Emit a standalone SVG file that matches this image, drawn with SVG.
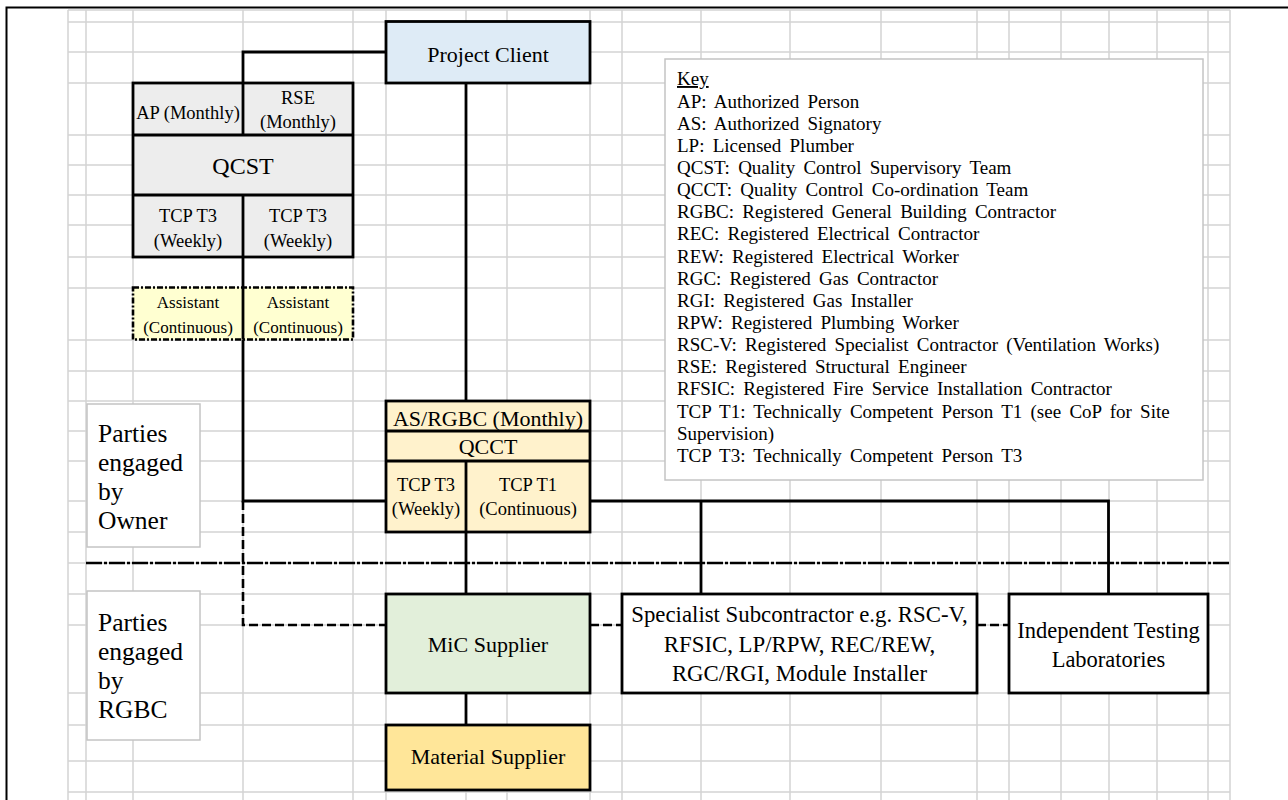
<svg xmlns="http://www.w3.org/2000/svg" width="1288" height="800" viewBox="0 0 1288 800">
<style>
text{font-family:"Liberation Serif","Times New Roman",serif;fill:#000}
.grid{stroke:#d3d3d3;stroke-width:1.5;fill:none}
.box{stroke:#000;stroke-width:2.8}
.div{stroke:#000;stroke-width:2.8;fill:none}
.conn{stroke:#000;stroke-width:2.8;fill:none}
.dash{stroke:#000;stroke-width:2.6;fill:none;stroke-dasharray:9 4}
.sep{stroke:#000;stroke-width:2.4;fill:none;stroke-dasharray:16 2 3 2}
.lbl{stroke:#c4c4c4;stroke-width:1.5;fill:#fff}
.c{text-anchor:middle}
.t22{font-size:22px}
.t18{font-size:18.5px}
.t17{font-size:17px}
.t24{font-size:24px}
.tp{font-size:25.5px}
.key{font-size:19px;word-spacing:3.5px}
</style>
<rect width="1288" height="800" fill="#fff"/>
<g id="grid" class="grid">
<path d="M68,10V800M86,10V800M133,10V800M243,10V800M353,10V800M386,10V800M466,10V800M507,10V800M590,10V800M622,10V800M701,10V800M790,10V800M881,10V800M977,10V800M1009,10V800M1061,10V800M1109,10V800M1157,10V800M1208,10V800M1230,10V800"/>
<path d="M68,10H1230M68,22H1230M68,52H1230M68,83H1230M68,135H1230M68,165H1230M68,195H1230M68,225H1230M68,257H1230M68,288H1230M68,340H1230M68,371H1230M68,401H1230M68,431H1230M68,461H1230M68,501H1230M68,532H1230M68,563H1230M68,594H1230M68,625H1230M68,693H1230M68,725H1230M68,761H1230M68,792H1230"/>
</g>
<path id="frame" d="M6.5,800V7.5H1288" stroke="#000" stroke-width="2" fill="none"/>
<g id="connectors">
<path class="sep" d="M86,563H1230"/>
<path class="conn" d="M386,52H243V83"/>
<path class="conn" d="M466,83V401"/>
<path class="conn" d="M243,257V501H386"/>
<path class="conn" d="M590,501H1108.5V594M701,501V594"/>
<path class="conn" d="M466,532V594"/>
<path class="conn" d="M466,693V725"/>
<path class="dash" d="M243,501V625H386"/>
<path class="dash" d="M590,625H622"/>
<path class="dash" d="M977,625H1009"/>
</g>
<g id="key">
<rect x="665" y="59" width="538" height="421" class="lbl"/>
<text class="key" x="677" y="85" text-decoration="underline">Key</text>
<text class="key" x="677" y="107.5">AP: Authorized Person</text>
<text class="key" x="677" y="129.6">AS: Authorized Signatory</text>
<text class="key" x="677" y="151.8">LP: Licensed Plumber</text>
<text class="key" x="677" y="173.9">QCST: Quality Control Supervisory Team</text>
<text class="key" x="677" y="196.1">QCCT: Quality Control Co-ordination Team</text>
<text class="key" x="677" y="218.2">RGBC: Registered General Building Contractor</text>
<text class="key" x="677" y="240.4">REC: Registered Electrical Contractor</text>
<text class="key" x="677" y="262.5">REW: Registered Electrical Worker</text>
<text class="key" x="677" y="284.7">RGC: Registered Gas Contractor</text>
<text class="key" x="677" y="306.8">RGI: Registered Gas Installer</text>
<text class="key" x="677" y="329">RPW: Registered Plumbing Worker</text>
<text class="key" x="677" y="351.1">RSC-V: Registered Specialist Contractor (Ventilation Works)</text>
<text class="key" x="677" y="373.3">RSE: Registered Structural Engineer</text>
<text class="key" x="677" y="395.4">RFSIC: Registered Fire Service Installation Contractor</text>
<text class="key" x="677" y="417.6">TCP T1: Technically Competent Person T1 (see CoP for Site</text>
<text class="key" x="677" y="439.7">Supervision)</text>
<text class="key" x="677" y="461.9">TCP T3: Technically Competent Person T3</text>
</g>
<g id="project-client">
<rect x="386" y="21.5" width="204" height="61.5" class="box" fill="#deebf6"/>
<text class="t22 c" x="488" y="61.5">Project Client</text>
</g>
<g id="qcst">
<rect x="133" y="83" width="220" height="174" class="box" fill="#ededed"/>
<path class="div" d="M133,135H353M133,195H353M243,83V135M243,195V257"/>
<text class="t18 c" x="188" y="119">AP (Monthly)</text>
<text class="t18 c" x="298" y="104">RSE</text>
<text class="t18 c" x="298" y="128">(Monthly)</text>
<text class="t24 c" x="243" y="174">QCST</text>
<text class="t18 c" x="188" y="222">TCP T3</text>
<text class="t18 c" x="188" y="247">(Weekly)</text>
<text class="t18 c" x="298" y="222">TCP T3</text>
<text class="t18 c" x="298" y="247">(Weekly)</text>
</g>
<g id="assistants">
<rect x="133" y="287.5" width="220" height="52" fill="#ffffd1" stroke="#000" stroke-width="2.6" stroke-dasharray="6 2 2 2"/>
<path class="conn" d="M243,287.5V339.5"/>
<text class="t17 c" x="188" y="307.5">Assistant</text>
<text class="t17 c" x="188" y="332.5">(Continuous)</text>
<text class="t17 c" x="298" y="307.5">Assistant</text>
<text class="t17 c" x="298" y="332.5">(Continuous)</text>
</g>
<g id="owner-label">
<rect x="87" y="404" width="113" height="143" class="lbl"/>
<text class="tp" x="98" y="441.5">Parties</text>
<text class="tp" x="98" y="470.8">engaged</text>
<text class="tp" x="98" y="500.1">by</text>
<text class="tp" x="98" y="529.4">Owner</text>
</g>
<g id="qcct">
<rect x="386" y="401" width="204" height="131" class="box" fill="#fff2cc"/>
<path class="div" d="M386,431H590M386,461H590M466,461V532"/>
<text class="t22 c" x="488" y="426">AS/RGBC (Monthly)</text>
<text class="t22 c" x="488" y="454">QCCT</text>
<text class="t18 c" x="426" y="491">TCP T3</text>
<text class="t18 c" x="426" y="515">(Weekly)</text>
<text class="t18 c" x="528" y="491">TCP T1</text>
<text class="t18 c" x="528" y="515">(Continuous)</text>
</g>
<g id="rgbc-label">
<rect x="87" y="591" width="113" height="149" class="lbl"/>
<text class="tp" x="98" y="630.5">Parties</text>
<text class="tp" x="98" y="659.8">engaged</text>
<text class="tp" x="98" y="689.1">by</text>
<text class="tp" x="98" y="718.4">RGBC</text>
</g>
<g id="mic-supplier">
<rect x="386" y="594" width="204" height="99" class="box" fill="#e2efda"/>
<text class="t22 c" x="488" y="652">MiC Supplier</text>
</g>
<g id="specialist">
<rect x="622" y="594" width="355" height="99" class="box" fill="#fff"/>
<text class="t22 c" x="799.5" y="622" style="font-size:22.8px">Specialist Subcontractor e.g. RSC-V,</text>
<text class="t22 c" x="799.5" y="652" style="font-size:22.8px">RFSIC, LP/RPW, REC/REW,</text>
<text class="t22 c" x="799.5" y="681" style="font-size:22.8px">RGC/RGI, Module Installer</text>
</g>
<g id="testing-labs">
<rect x="1009" y="594" width="199" height="99" class="box" fill="#fff"/>
<text class="t22 c" x="1108.5" y="638" style="font-size:22.5px">Independent Testing</text>
<text class="t22 c" x="1108.5" y="667" style="font-size:22.5px">Laboratories</text>
</g>
<g id="material-supplier">
<rect x="386" y="725" width="204" height="65" class="box" fill="#ffe699"/>
<text class="t22 c" x="488" y="764">Material Supplier</text>
</g>
</svg>
